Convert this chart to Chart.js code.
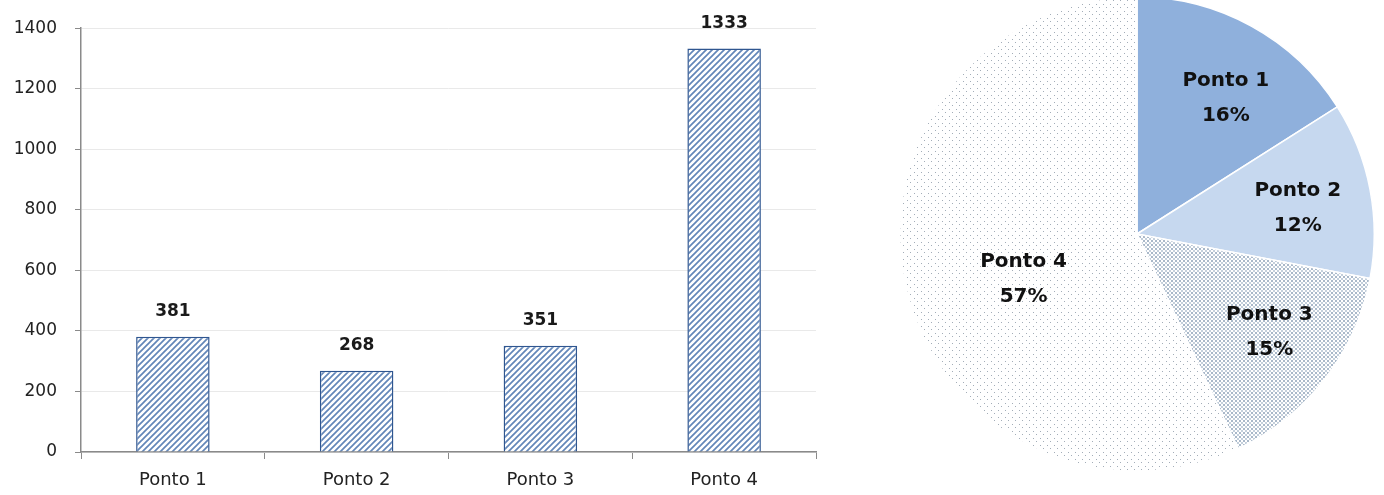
<!DOCTYPE html>
<html>
<head>
<meta charset="utf-8">
<script src="https://cdn.jsdelivr.net/npm/chart.js@4.4.1/dist/chart.umd.min.js"></script>
<style>
  html, body { margin: 0; padding: 0; background: #fff; overflow: hidden; }
  body { width: 1384px; height: 495px; position: relative; }
  .box { position: absolute; }
  #barBox { left: 0; top: 0; width: 820px; height: 495px; }
  #pieBox { left: 899px; top: -4px; width: 476px; height: 476px; }
</style>
</head>
<body>
<div class="box" id="barBox"><canvas id="bars"></canvas></div>
<div class="box" id="pieBox"><canvas id="pie"></canvas></div>
<script>
// data
const categories = ['Ponto 1', 'Ponto 2', 'Ponto 3', 'Ponto 4'];
const counts = [381, 268, 351, 1333];
const shares = [16, 12, 15, 57];   // % as printed on the pie
const yTicks = [0, 200, 400, 600, 800, 1000, 1200, 1400];

const axisFont = "'DejaVu Sans', sans-serif";
const boldFont = "'DejaVu Sans', sans-serif";

// little tile patterns
function tile(w, h, draw) {
  const c = document.createElement('canvas');
  c.width = w; c.height = h;
  const g = c.getContext('2d');
  g.fillStyle = '#fff';
  g.fillRect(0, 0, w, h);
  draw(g);
  return document.createElement('canvas').getContext('2d').createPattern(c, 'repeat');
}

const stripes = tile(6, 6, g => {
  g.strokeStyle = '#6286b8';
  g.lineWidth = 1.7;
  g.beginPath();
  g.moveTo(-1, 7); g.lineTo(7, -1);
  g.moveTo(-1, 1); g.lineTo(1, -1);
  g.moveTo(5, 7); g.lineTo(7, 5);
  g.stroke();
});

const denseDots = tile(4, 4, g => {
  g.fillStyle = '#a9b8c9';
  g.fillRect(0, 0, 2, 2);
  g.fillStyle = '#c3cfdb';
  g.fillRect(2, 2, 2, 2);
});

const sparseDots = tile(7, 7, g => {
  g.fillStyle = '#a3adb8';
  g.fillRect(1, 1, 1, 1);
  g.fillRect(4, 4, 1, 1);
});

const barLabels = {
  id: 'barLabels',
  afterDatasetsDraw(chart) {
    const ctx = chart.ctx;
    const meta = chart.getDatasetMeta(0);
    ctx.save();
    ctx.font = 'bold 17px ' + boldFont;
    ctx.fillStyle = '#1a1a1a';
    ctx.textAlign = 'center';
    ctx.textBaseline = 'middle';
    meta.data.forEach((bar, i) => {
      ctx.fillText(String(counts[i]), bar.x, bar.y - 25);
    });
    ctx.restore();
  }
};

new Chart(document.getElementById('bars'), {
  type: 'bar',
  data: {
    labels: categories,
    datasets: [{
      data: counts,
      backgroundColor: stripes,
      borderColor: '#2f5690',
      borderWidth: 1.5,
      categoryPercentage: 1,
      barPercentage: 0.4
    }]
  },
  options: {
    responsive: true,
    maintainAspectRatio: false,
    animation: false,
    layout: { padding: { top: 27, right: 4, left: 0, bottom: 0 } },
    plugins: { legend: { display: false }, tooltip: { enabled: false } },
    scales: {
      x: {
        grid: { offset: true, drawOnChartArea: false, tickColor: '#8a8a8a', tickLength: 7 },
        border: { color: '#8a8a8a', width: 1.5 },
        ticks: { color: '#222', font: { family: axisFont, size: 18 }, padding: 11 },
        afterFit(s) { s.height = 43; }
      },
      y: {
        min: 0,
        max: 1400,
        afterBuildTicks(s) { s.ticks = yTicks.map(v => ({ value: v })); },
        grid: { color: '#e9e9e9', tickColor: '#8a8a8a', tickLength: 6 },
        border: { color: '#8a8a8a', width: 1.5 },
        ticks: {
          color: '#222',
          font: { family: axisFont, size: 17 },
          padding: 18,
          callback: v => String(v)
        },
        afterFit(s) { s.width = 81; }
      }
    }
  },
  plugins: [barLabels]
});

// small hand nudges so the labels sit where the original put them
const pieNudge = [[10, 8], [0, 5], [3, -2], [7, 18]];

const pieLabels = {
  id: 'pieLabels',
  afterDatasetsDraw(chart) {
    const ctx = chart.ctx;
    const meta = chart.getDatasetMeta(0);
    ctx.save();
    ctx.font = 'bold 20px ' + boldFont;
    ctx.fillStyle = '#111';
    ctx.textAlign = 'center';
    ctx.textBaseline = 'middle';
    meta.data.forEach((arc, i) => {
      const mid = (arc.startAngle + arc.endAngle) / 2;
      const k = shares[i] > 50 ? 0.52 : 0.69;
      const r = arc.outerRadius * k;
      const x = arc.x + Math.cos(mid) * r + pieNudge[i][0];
      const y = arc.y + Math.sin(mid) * r + pieNudge[i][1];
      ctx.fillText(categories[i], x, y - 17.5);
      ctx.fillText(shares[i] + '%', x, y + 17.5);
    });
    ctx.restore();
  }
};

new Chart(document.getElementById('pie'), {
  type: 'pie',
  data: {
    labels: categories,
    datasets: [{
      data: shares,
      backgroundColor: ['#8fb0dc', '#c6d8ef', denseDots, sparseDots],
      borderColor: '#ffffff',
      borderWidth: 1.5
    }]
  },
  options: {
    responsive: true,
    maintainAspectRatio: false,
    animation: false,
    layout: { padding: 0 },
    plugins: { legend: { display: false }, tooltip: { enabled: false } }
  },
  plugins: [pieLabels]
});
</script>
</body>
</html>
